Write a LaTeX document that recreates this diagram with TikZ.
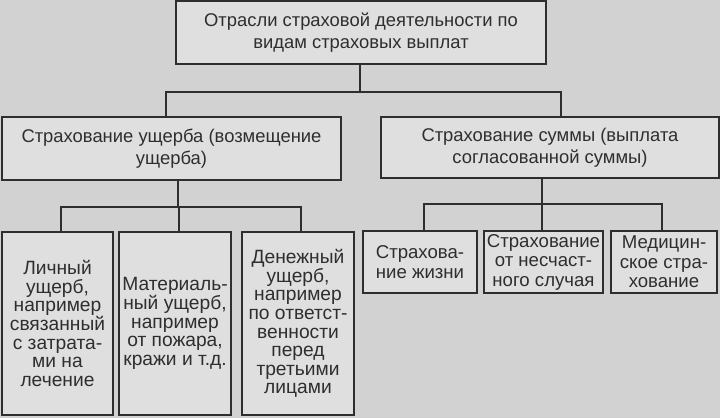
\documentclass[tikz,border=0pt]{standalone}
\usepackage{fontspec}
\setmainfont{Liberation Sans}
\usepackage{tikz}
\usetikzlibrary{calc,positioning}

\definecolor{paperGray}{HTML}{D2D2D2}
\definecolor{boxGray}{HTML}{DFDFDF}
\definecolor{inkGray}{HTML}{2E2E2E}

\begin{document}
\begin{tikzpicture} [x=1pt,y=-1pt,
  every node/.style={text=inkGray},
  box/.style={draw=inkGray,line width=1.3pt,fill=boxGray,align=center,inner sep=0pt,outer sep=0pt,font=\fontsize{18.4}{22}\selectfont},
  damagebox/.style={box,font=\fontsize{19.2}{18.6}\selectfont},
  sumbox/.style={box,font=\fontsize{18.6}{19.5}\selectfont},
  link/.style={draw=inkGray,line width=1.3pt}]  %[scale=1]

%% paper
\fill [paperGray] (0,0) rectangle (720,418);
\useasboundingbox (0,0) rectangle (720,418);

%% upper two levels
\node [box,minimum width=370,minimum height=63] (branches) at (361,32.5) {Отрасли страховой деятельности по\\видам страховых выплат};
\node [box,minimum width=339,minimum height=63] (damage) at (171.5,148.5) {Страхование ущерба (возмещение\\ущерба)};
\node [box,minimum width=338,minimum height=61] (sum) at (550,147.5) {Страхование суммы (выплата\\согласованной суммы)};

\coordinate (busTop) at (360,92);
\coordinate (busDamage) at (178,207);
\coordinate (busSum) at (542,204);

\draw [link] (branches.south -| busTop) -- (busTop);
\draw [link] ([xshift=-5.5]damage.north) |- (busTop) -| ([xshift=11]sum.north);
\draw [link] (damage.south -| busDamage) -- (busDamage);
\draw [link] (sum.south -| busSum) -- (busSum);

%% kinds of damage
\foreach \cx/\w/\dx/\txt [count=\ni] in {
  57.5/111/3.5/{Личный\\ущерб,\\например\\связанный\\с затрата-\\ми на\\лечение},
  175/112/4/{Материаль-\\ный ущерб,\\например\\от пожара,\\кражи и т.д.},
  298/112/3/{Денежный\\ущерб,\\например\\по ответст-\\венности\\перед\\третьими\\лицами}}
{
  \node [damagebox,minimum width=\w,minimum height=183] (d\ni) at (\cx,323.5) {\txt};
  \draw [link] ([xshift=\dx]d\ni.north) |- (busDamage);
}

%% kinds of sum
\foreach \cx/\w/\dx/\txt [count=\ni] in {
  420/114/4/{Страхова-\\ние жизни},
  543.5/119/-1.5/{Страхование\\от несчаст-\\ного случая},
  664/106/-2/{Медицин-\\ское стра-\\хование}}
{
  \node [sumbox,minimum width=\w,minimum height=62] (s\ni) at (\cx,262) {\txt};
  \draw [link] ([xshift=\dx]s\ni.north) |- (busSum);
}
\end{tikzpicture}
\end{document}
